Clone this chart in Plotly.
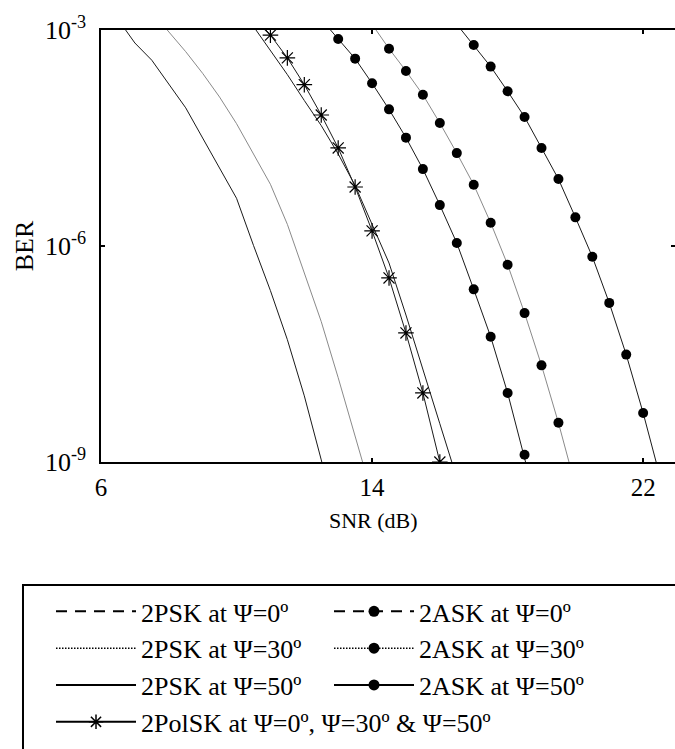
import plotly.graph_objects as go

# ---------------- data ----------------
snr_psk0 = [6.5, 7.0, 7.5, 8.0, 8.5, 9.0, 9.5, 10.0, 10.5, 11.0, 11.5, 12.0, 12.5, 13.0]
ber_psk0 = [1.41e-3, 6.6e-4, 3.8e-4, 1.78e-4, 8.3e-5, 3.16e-5, 1.20e-5, 4.6e-6,
            1.02e-6, 2.4e-7, 5.0e-8, 8.3e-9, 1.07e-9, 1.26e-10]

snr_psk30 = [7.5, 8.0, 8.5, 9.0, 9.5, 10.0, 10.5, 11.0, 11.5, 12.0, 12.5, 13.0, 13.5, 14.0]
ber_psk30 = [1.78e-3, 9.5e-4, 5.0e-4, 2.5e-4, 1.17e-4, 5.0e-5, 1.9e-5, 7.2e-6,
             2.0e-6, 4.3e-7, 8.9e-8, 1.48e-8, 2.3e-9, 3.5e-10]

snr_psk50 = [10.5, 11.0, 11.5, 12.0, 12.5, 13.0, 13.5, 14.0, 14.5, 15.0, 15.5, 16.0, 16.5]
ber_psk50 = [1.12e-3, 5.2e-4, 2.4e-4, 1.05e-4, 4.7e-5, 1.9e-5, 6.9e-6, 2.0e-6,
             5.8e-7, 1.10e-7, 1.86e-8, 3.4e-9, 6.0e-10]

snr_polsk = [10.5, 11.0, 11.5, 12.0, 12.5, 13.0, 13.5, 14.0, 14.5, 15.0, 15.5, 16.0]
ber_polsk = [1.58e-3, 8.5e-4, 4.1e-4, 1.74e-4, 6.6e-5, 2.3e-5, 6.6e-6, 1.62e-6,
             3.6e-7, 6.2e-8, 9.1e-9, 1.0e-9]

snr_ask0 = [12.5, 13.0, 13.5, 14.0, 14.5, 15.0, 15.5, 16.0, 16.5, 17.0, 17.5, 18.0, 18.5, 19.0]
ber_ask0 = [1.41e-3, 7.5e-4, 4.0e-4, 1.82e-4, 7.9e-5, 3.2e-5, 1.17e-5, 3.7e-6,
            1.10e-6, 2.5e-7, 5.5e-8, 9.1e-9, 1.26e-9, 1.4e-10]

snr_ask30 = [14.0, 14.5, 15.0, 15.5, 16.0, 16.5, 17.0, 17.5, 18.0, 18.5, 19.0, 19.5, 20.0]
ber_ask30 = [1.2e-3, 5.5e-4, 2.7e-4, 1.26e-4, 5.1e-5, 1.95e-5, 7.1e-6, 2.1e-6,
             5.5e-7, 1.17e-7, 2.2e-8, 3.5e-9, 4.7e-10]

snr_ask50 = [16.5, 17.0, 17.5, 18.0, 18.5, 19.0, 19.5, 20.0, 20.5, 21.0, 21.5, 22.0, 22.5]
ber_ask50 = [1.2e-3, 6.2e-4, 3.1e-4, 1.41e-4, 6.2e-5, 2.3e-5, 8.5e-6, 2.5e-6,
             7.1e-7, 1.62e-7, 3.1e-8, 4.8e-9, 6.2e-10]

x_tickvals = [6, 14, 22]
x_ticktext = ["6", "14", "22"]
y_tickvals = [1e-9, 1e-6, 1e-3]
y_ticktext = ["10<sup>-9</sup>", "10<sup>-6</sup>", "10<sup>-3</sup>"]

legend_names = [
    "2PSK at Ψ=0º", "2ASK at Ψ=0º",
    "2PSK at Ψ=30º", "2ASK at Ψ=30º",
    "2PSK at Ψ=50º", "2ASK at Ψ=50º",
    "2PolSK at Ψ=0º, Ψ=30º & Ψ=50º",
]

FONT = "Times New Roman, Liberation Serif, Tinos, DejaVu Serif, Noto Serif, serif"
DARK = "#1a1a1a"
GRAY = "#8a8a8a"

fig = go.Figure()

# ---------------- curves in the plot ----------------
def curve(x, y, color, marker=None):
    kw = dict(x=x, y=y, showlegend=False, hoverinfo="skip",
              line=dict(color=color, width=1))
    if marker is None:
        kw["mode"] = "lines"
    else:
        kw["mode"] = "lines+markers"
        kw["marker"] = marker
    fig.add_trace(go.Scatter(**kw))

dot = dict(symbol="circle", size=10, color="black")
star = dict(symbol="asterisk-open", size=13, color="black",
            line=dict(color="black", width=1.2))

curve(snr_psk0, ber_psk0, DARK)
curve(snr_psk30, ber_psk30, GRAY)
curve(snr_psk50, ber_psk50, DARK)
curve(snr_polsk, ber_polsk, DARK, star)
curve(snr_ask0, ber_ask0, DARK, dot)
curve(snr_ask30, ber_ask30, GRAY, dot)
curve(snr_ask50, ber_ask50, DARK, dot)

# ---------------- legend entries ----------------
leg_styles = [
    dict(mode="lines", line=dict(color="black", width=2, dash="11px,8px")),
    dict(mode="lines+markers", line=dict(color="black", width=2, dash="11px,8px"),
         marker=dict(symbol="circle", size=11, color="black")),
    dict(mode="lines", line=dict(color="black", width=1.5, dash="1.5px,1.5px")),
    dict(mode="lines+markers", line=dict(color="black", width=1.5, dash="1.5px,1.5px"),
         marker=dict(symbol="circle", size=11, color="black")),
    dict(mode="lines", line=dict(color="black", width=2)),
    dict(mode="lines+markers", line=dict(color="black", width=2),
         marker=dict(symbol="circle", size=11, color="black")),
    dict(mode="lines+markers", line=dict(color="black", width=2),
         marker=dict(symbol="asterisk-open", size=12, color="black",
                     line=dict(color="black", width=1.5))),
]
for name, st in zip(legend_names, leg_styles):
    fig.add_trace(go.Scatter(x=[None], y=[None], name=name, showlegend=True,
                             hoverinfo="skip", **st))

axis_common = dict(
    showline=True, linecolor="black", linewidth=1.5, mirror="ticks",
    ticks="inside", ticklen=4, tickwidth=1.5, tickcolor="black",
    showgrid=False, zeroline=False,
)

fig.update_layout(
    width=675, height=749,
    margin=dict(l=101, r=0, t=30, b=287, autoexpand=False),
    paper_bgcolor="white", plot_bgcolor="white",
    font=dict(family=FONT, color="black"),
    xaxis=dict(range=[6, 22.94], tickvals=x_tickvals, ticktext=x_ticktext,
               tickfont=dict(size=25, family=FONT), ticklabelstandoff=2,
               **axis_common),
    yaxis=dict(type="log", range=[-9, -3], tickvals=y_tickvals, ticktext=y_ticktext,
               tickfont=dict(size=26, family=FONT), ticklabelstandoff=8,
               title=dict(text="BER", font=dict(size=26, family=FONT), standoff=4),
               **axis_common),
    legend=dict(orientation="h", x=-0.0871, xanchor="left", y=-0.2916, yanchor="top",
                font=dict(size=26, family=FONT), itemwidth=80,
                entrywidth=183, entrywidthmode="pixels",
                bgcolor="rgba(0,0,0,0)", borderwidth=0, traceorder="normal",
                tracegroupgap=0),
    showlegend=True,
    annotations=[dict(text="SNR (dB)", xref="paper", yref="paper",
                      x=0.474, y=-0.101, xanchor="center", yanchor="top",
                      showarrow=False, font=dict(size=22, family=FONT))],
    shapes=[dict(type="rect", xref="paper", yref="paper",
                 x0=-0.1359, x1=1.05, y0=-0.2847, y1=-0.75,
                 line=dict(color="black", width=2), fillcolor="rgba(0,0,0,0)",
                 layer="above")],
)

fig.write_html(
    "out.html",
    config={"displayModeBar": False},
    post_script="document.body.style.margin='0px';document.body.style.overflow='hidden';",
)
